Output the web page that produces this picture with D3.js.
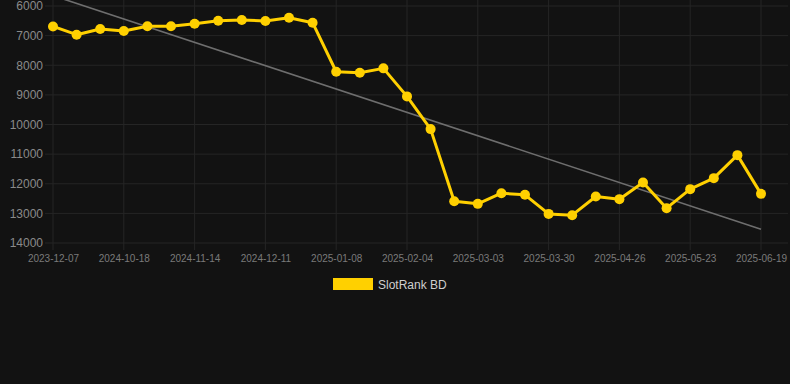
<!DOCTYPE html>
<html><head><meta charset="utf-8">
<script src="https://cdn.jsdelivr.net/npm/d3@7"></script>
<style>
html,body{margin:0;padding:0;background:#121212;}
svg{display:block;font-family:"Liberation Sans",Arial,sans-serif;}
</style></head>
<body><svg id="c" width="790" height="384"></svg>
<script>
const dates = ["2023-12-07","2024-09-30","2024-10-09","2024-10-18","2024-10-27","2024-11-05","2024-11-14","2024-11-23","2024-12-02","2024-12-11","2024-12-20","2024-12-29","2025-01-08","2025-01-17","2025-01-26","2025-02-04","2025-02-13","2025-02-22","2025-03-03","2025-03-12","2025-03-21","2025-03-30","2025-04-08","2025-04-17","2025-04-26","2025-05-05","2025-05-14","2025-05-23","2025-06-01","2025-06-10","2025-06-19"];
const rankValues = [6690,6968,6777,6845,6686,6686,6598,6496,6473,6507,6395,6563,8219,8253,8105,9051,10155,12588,12679,12318,12374,13017,13061,12430,12520,11957,12824,12182,11811,11034,12341];
const trendValues = [5650,13535];
const yTicks = [6000,7000,8000,9000,10000,11000,12000,13000,14000];
const seriesName = "SlotRank BD";

const svg = d3.select("#c");
const x = d3.scalePoint().domain(dates).range([53,761]);
const y = d3.scaleLinear().domain([6000,14000]).range([6,243]);
const gridColor = "#252525";

// horizontal grid
svg.append("g").selectAll("line").data(yTicks).join("line")
  .attr("x1",45).attr("x2",788).attr("y1",d=>y(d)).attr("y2",d=>y(d))
  .attr("stroke",gridColor).attr("stroke-width",1);
// vertical grid for shown ticks
const shown = dates.filter((d,i)=>i%3===0);
svg.append("g").selectAll("line").data(shown).join("line")
  .attr("x1",d=>x(d)).attr("x2",d=>x(d)).attr("y1",0).attr("y2",250)
  .attr("stroke",gridColor).attr("stroke-width",1);

// y axis labels
const yAxis = d3.axisLeft(y).tickValues(yTicks).tickSize(0).tickPadding(0).tickFormat(d3.format("d"));
const gy = svg.append("g").attr("transform","translate(43,0)").call(yAxis);
gy.select(".domain").remove();
gy.selectAll("text").attr("fill","#8a8a8a").attr("font-size","12px").attr("font-family","Liberation Sans, Arial, sans-serif");

// x axis labels
const xAxis = d3.axisBottom(x).tickValues(shown).tickSize(0).tickPadding(0);
const gx = svg.append("g").attr("transform","translate(0,255)").call(xAxis);
gx.select(".domain").remove();
gx.selectAll("text").attr("fill","#7a7a7a").attr("font-size","10px").attr("font-family","Liberation Sans, Arial, sans-serif");

// trend line
svg.append("line")
  .attr("x1",x(dates[0])).attr("y1",y(trendValues[0]))
  .attr("x2",x(dates[dates.length-1])).attr("y2",y(trendValues[1]))
  .attr("stroke","#6e6e6e").attr("stroke-width",1.6);

// series line
const data = dates.map((d,i)=>({d,v:rankValues[i]}));
const color = "#FFD000";
svg.append("path").datum(data)
  .attr("d",d3.line().x(p=>x(p.d)).y(p=>y(p.v)))
  .attr("fill","none").attr("stroke",color).attr("stroke-width",3).attr("stroke-linejoin","round");
svg.append("g").selectAll("circle").data(data).join("circle")
  .attr("cx",p=>x(p.d)).attr("cy",p=>y(p.v)).attr("r",5).attr("fill",color);

// legend
const lg = svg.append("g");
lg.append("rect").attr("x",333).attr("y",278).attr("width",40).attr("height",12).attr("fill",color);
lg.append("text").attr("x",378).attr("y",288.5).text(seriesName)
  .attr("fill","#cfcfcf").attr("font-size","12px");
</script></body></html>
